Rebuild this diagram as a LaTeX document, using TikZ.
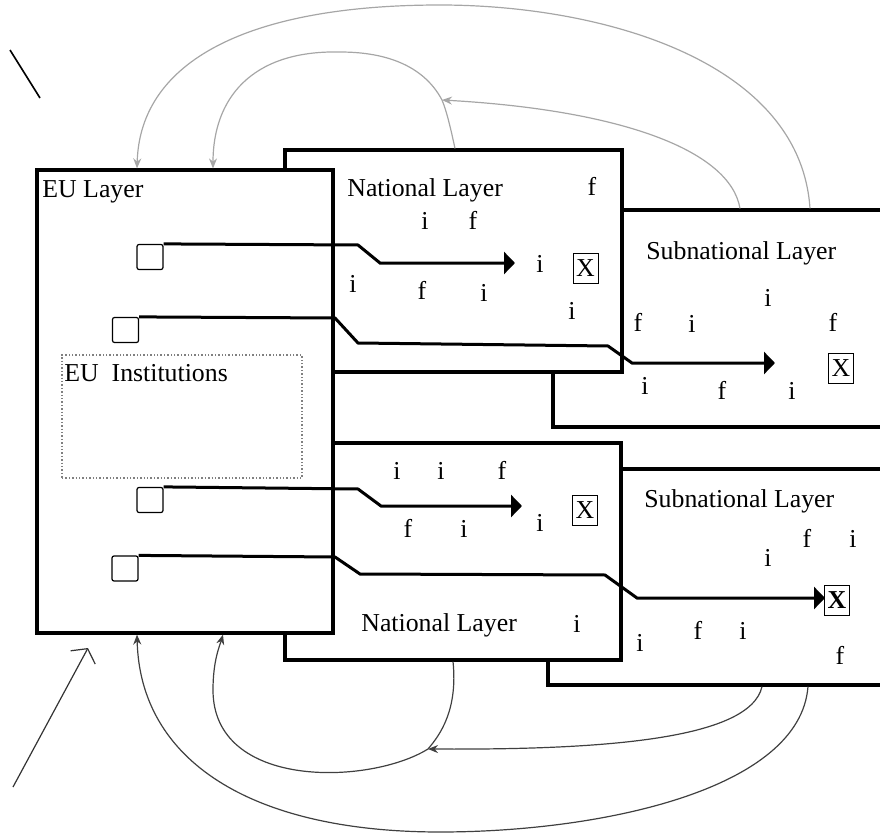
\documentclass[tikz,border=0pt]{standalone}
\usepackage{fontspec}
\setmainfont{Liberation Serif}
\usepackage{tikz}
\usetikzlibrary{arrows.meta, positioning}

\begin{document}
\begin{tikzpicture}[
    x=0.5pt, y=-0.5pt,
    font=\fontsize{12.9}{15}\selectfont,
    layer/.style={rectangle, draw, fill=white, line width=1.6pt, inner sep=0pt},
    instbox/.style={rectangle, draw=gray, densely dotted, line width=0.7pt,
                    inner sep=0pt},
    title/.style={anchor=base west, inner sep=0pt},
    letter/.style={anchor=base, inner sep=0pt},
    xbox/.style={rectangle, draw, line width=0.5pt, minimum width=12.5pt,
                 minimum height=15pt, inner sep=0.5pt},
    port/.style={rectangle, draw, line width=0.6pt, rounded corners=1pt,
                 minimum width=13pt, minimum height=12.5pt, inner sep=0pt},
    flow/.style={line width=1.5pt, -{Triangle[length=5.5pt, width=11pt]}},
    back/.style={line width=0.6pt, -{Stealth[length=5pt, width=4pt]}},
]
    \useasboundingbox (0,0) rectangle (880,835);
    \clip (0,0) rectangle (880,835);

    % Layers (back to front)
    \node[layer, minimum width=173.5pt, minimum height=108.5pt] (sub1) at (726.5,318.5) {};
    \node[layer, minimum width=168.5pt, minimum height=111pt] (nat1) at (453.5,261) {};
    \node[layer, minimum width=176pt, minimum height=108pt] (sub2) at (724,577) {};
    \node[layer, minimum width=168pt, minimum height=108.5pt] (nat2) at (453,551.5) {};
    \node[layer, minimum width=148pt, minimum height=231.5pt] (eu) at (185,401.5) {};
    \node[instbox, minimum width=120pt, minimum height=61.5pt] (inst) at (182,416.5) {};

    % Titles
    \node[title] (eutitle) at (42,198) {EU Layer};
    \node[title] (insttitle) at (64,381) {EU\ \ Institutions};
    \node[title] (nat1title) at (347,196) {National Layer};
    \node[title] (sub1title) at (646,259) {Subnational Layer};
    \node[title] (sub2title) at (644,507) {Subnational Layer};
    \node[title] (nat2title) at (361,631) {National Layer};

    % Actors
    \foreach \x/\y/\t [count=\k] in {425/229/i, 473/229/f, 592/195/f, 353/292/i,
        422/299/f, 484/301/i, 540/272/i, 572/319/i,
        768/306/i, 638/331/f, 692/332/i, 833/331/f, 645/394/i, 722/399/f, 792/399/i,
        397/479/i, 441/479/i, 502/479/f, 540/531/i, 408/537/f, 464/537/i, 577/632/i,
        807/547/f, 853/547/i, 768/566/i, 640/651/i, 698/639/f, 743/639/i, 840/664/f}
        \node[letter] (a\k) at (\x,\y) {\t};

    % Outcomes
    \node[xbox] (x1) at (585.5,268) {X};
    \node[xbox] (x2) at (841,368) {X};
    \node[xbox] (x3) at (585,510) {X};
    \node[xbox] (x4) at (837,600) {\textbf{X}};

    % Ports in EU layer
    \node[port] (sq1) at (150,257) {};
    \node[port] (sq2) at (125.5,330) {};
    \node[port] (sq3) at (150,500) {};
    \node[port] (sq4) at (125,568.5) {};

    % Policy flows
    \coordinate (t1) at (515,263);
    \coordinate (t2) at (775,363);
    \coordinate (t3) at (522,506);
    \coordinate (t4) at (825,598);
    \draw[flow] (sq1.north east) -- (358,245) -- (380,263) -- (t1);
    \draw[flow] (sq2.north east) -- (335,318) -- (358,343) -- (608,346) -- (632,363) -- (t2);
    \draw[flow] (sq3.north east) -- (358,489) -- (381,506) -- (t3);
    \draw[flow] (sq4.north east) -- (335,557) -- (360,574) -- (605,575) -- (637,598) -- (t4);

    % Feedback, top
    \coordinate (jtop) at (442,100);
    \draw[back, gray!70] (810,0 |- sub1.north) .. controls (800,60) and (600,5) .. (440,5)
        .. controls (250,5) and (140,60) .. (137,0 |- eu.north);
    \draw[back, gray!70] (455,0 |- nat1.north) .. controls (451,130) and (447,112) .. (jtop)
        .. controls (425,68) and (390,52) .. (340,52)
        .. controls (250,50) and (213,100) .. (213,0 |- eu.north);
    \draw[back, gray!70] (740,0 |- sub1.north) .. controls (730,150) and (620,110) .. (jtop);

    % Feedback, bottom
    \coordinate (jbot) at (428,749);
    \draw[back, black!75] (808,0 |- sub2.south) .. controls (800,790) and (600,832) .. (440,832)
        .. controls (250,832) and (140,760) .. (137,0 |- eu.south);
    \draw[back, black!75] (762,0 |- sub2.south) .. controls (750,740) and (600,750) .. (jbot);
    \draw[back, black!75] (453,0 |- nat2.south) .. controls (458,710) and (440,735) .. (jbot)
        .. controls (370,785) and (213,790) .. (213,690)
        .. controls (213,660) and (220,645) .. (223,0 |- eu.south);

    % Stray strokes
    \coordinate (s1) at (10,50);
    \coordinate (s2) at (40,98);
    \draw[line width=0.8pt] (s1) -- (s2);
    \coordinate (p1) at (13,787);
    \coordinate (p2) at (88,648);
    \draw[line width=0.6pt, black!80, -{Straight Barb[length=5pt, width=14pt]}] (p1) -- (p2);
\end{tikzpicture}
\end{document}
